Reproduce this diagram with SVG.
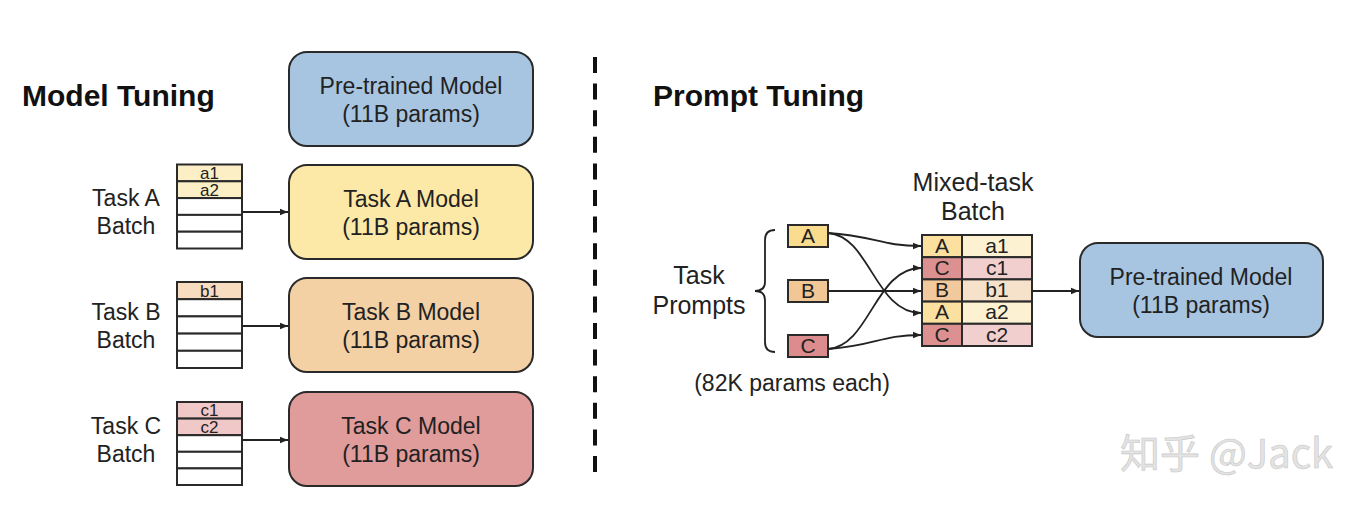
<svg xmlns="http://www.w3.org/2000/svg" width="1358" height="522" viewBox="0 0 1358 522">
<defs>
<style>
.t{font-family:"Liberation Sans",Arial,sans-serif;font-size:23px;fill:#222;text-anchor:middle}
.h{font-family:"Liberation Sans",Arial,sans-serif;font-size:30px;font-weight:bold;fill:#111}
.box{stroke:#2a2a2a;stroke-width:2}
.cell{stroke:#2a2a2a;stroke-width:2}
.ct{font-family:"Liberation Sans",Arial,sans-serif;font-size:17px;fill:#222;text-anchor:middle}
.rt{font-family:"Liberation Sans",Arial,sans-serif;font-size:21px;fill:#222;text-anchor:middle}
.conn{fill:none;stroke:#222;stroke-width:1.8}
</style>
<marker id="arr" viewBox="0 0 10 10" refX="10" refY="5" markerWidth="8" markerHeight="8" markerUnits="userSpaceOnUse" orient="auto">
<path d="M0,1 L10,5 L0,9 Z" fill="#222"/>
</marker>
</defs>
<rect width="1358" height="522" fill="#fff"/>

<text class="h" x="22" y="106">Model Tuning</text>
<text class="h" x="653" y="106">Prompt Tuning</text>

<line x1="595" y1="57" x2="595" y2="472" stroke="#111" stroke-width="4" stroke-dasharray="16 10.6"/>

<g id="pretrained-left">
<rect class="box" x="289" y="52" width="244" height="94" rx="18" fill="#a7c5e1"/>
<text class="t" x="411" y="94">Pre-trained Model</text>
<text class="t" x="411" y="122">(11B params)</text>
</g>

<g id="taskA-model">
<rect class="box" x="289" y="165" width="244" height="94" rx="18" fill="#fde9a7"/>
<text class="t" x="411" y="207">Task A Model</text>
<text class="t" x="411" y="235">(11B params)</text>
</g>
<g id="taskB-model">
<rect class="box" x="289" y="278" width="244" height="94" rx="18" fill="#f4d0a5"/>
<text class="t" x="411" y="320">Task B Model</text>
<text class="t" x="411" y="348">(11B params)</text>
</g>
<g id="taskC-model">
<rect class="box" x="289" y="392" width="244" height="94" rx="18" fill="#e09b9b"/>
<text class="t" x="411" y="434">Task C Model</text>
<text class="t" x="411" y="462">(11B params)</text>
</g>

<g id="taskA-batch">
<text class="t" x="126" y="206">Task A</text>
<text class="t" x="126" y="234">Batch</text>
<rect class="cell" x="177" y="164.5" width="65" height="16.8" fill="#fcefc6"/>
<rect class="cell" x="177" y="181.3" width="65" height="16.8" fill="#fcefc6"/>
<rect class="cell" x="177" y="198.1" width="65" height="16.8" fill="#fff"/>
<rect class="cell" x="177" y="214.9" width="65" height="16.8" fill="#fff"/>
<rect class="cell" x="177" y="231.7" width="65" height="16.8" fill="#fff"/>
<text class="ct" x="209.5" y="179">a1</text>
<text class="ct" x="209.5" y="196">a2</text>
</g>
<g id="taskB-batch">
<text class="t" x="126" y="320">Task B</text>
<text class="t" x="126" y="348">Batch</text>
<rect class="cell" x="177" y="282" width="65" height="17.2" fill="#f7dcc0"/>
<rect class="cell" x="177" y="299.2" width="65" height="17.2" fill="#fff"/>
<rect class="cell" x="177" y="316.4" width="65" height="17.2" fill="#fff"/>
<rect class="cell" x="177" y="333.6" width="65" height="17.2" fill="#fff"/>
<rect class="cell" x="177" y="350.8" width="65" height="17.2" fill="#fff"/>
<text class="ct" x="209.5" y="297">b1</text>
</g>
<g id="taskC-batch">
<text class="t" x="126" y="434">Task C</text>
<text class="t" x="126" y="462">Batch</text>
<rect class="cell" x="177" y="402" width="65" height="16.6" fill="#f0c8c8"/>
<rect class="cell" x="177" y="418.6" width="65" height="16.6" fill="#f0c8c8"/>
<rect class="cell" x="177" y="435.2" width="65" height="16.6" fill="#fff"/>
<rect class="cell" x="177" y="451.8" width="65" height="16.6" fill="#fff"/>
<rect class="cell" x="177" y="468.4" width="65" height="16.6" fill="#fff"/>
<text class="ct" x="209.5" y="416">c1</text>
<text class="ct" x="209.5" y="433">c2</text>
</g>

<g id="prompts">
<text class="t" x="699" y="284" style="font-size:25px">Task</text>
<text class="t" x="699" y="314" style="font-size:25px">Prompts</text>
<path d="M775,230 Q765,230 765,240 L765,282 Q765,291 755,291 Q765,291 765,300 L765,342 Q765,352 775,352" fill="none" stroke="#222" stroke-width="1.8"/>
<rect class="cell" x="788" y="225" width="40" height="22" fill="#fadc8e"/>
<text class="rt" x="808" y="243">A</text>
<rect class="cell" x="788" y="280" width="40" height="22" fill="#f2c796"/>
<text class="rt" x="808" y="298">B</text>
<rect class="cell" x="788" y="335" width="40" height="22" fill="#dc8c8c"/>
<text class="rt" x="808" y="353">C</text>
<text class="t" x="792" y="391">(82K params each)</text>
</g>

<g id="mixed-batch">
<text class="t" x="973" y="191" style="font-size:25px">Mixed-task</text>
<text class="t" x="973" y="220" style="font-size:25px">Batch</text>
<rect class="cell" x="922" y="235" width="40" height="22.2" fill="#fbe0a0"/>
<rect class="cell" x="962" y="235" width="70" height="22.2" fill="#fcf1d1"/>
<rect class="cell" x="922" y="257.2" width="40" height="22.2" fill="#dd9090"/>
<rect class="cell" x="962" y="257.2" width="70" height="22.2" fill="#f1cfcf"/>
<rect class="cell" x="922" y="279.4" width="40" height="22.2" fill="#f2c99c"/>
<rect class="cell" x="962" y="279.4" width="70" height="22.2" fill="#f6e2cb"/>
<rect class="cell" x="922" y="301.6" width="40" height="22.2" fill="#fbe0a0"/>
<rect class="cell" x="962" y="301.6" width="70" height="22.2" fill="#fcf1d1"/>
<rect class="cell" x="922" y="323.8" width="40" height="22.2" fill="#dd9090"/>
<rect class="cell" x="962" y="323.8" width="70" height="22.2" fill="#f1cfcf"/>
<text class="rt" x="942" y="253">A</text><text class="rt" x="997" y="253">a1</text>
<text class="rt" x="942" y="275">C</text><text class="rt" x="997" y="275">c1</text>
<text class="rt" x="942" y="297">B</text><text class="rt" x="997" y="297">b1</text>
<text class="rt" x="942" y="319">A</text><text class="rt" x="997" y="319">a2</text>
<text class="rt" x="942" y="342">C</text><text class="rt" x="997" y="342">c2</text>
</g>

<g id="pretrained-right">
<rect class="box" x="1080" y="243" width="243" height="94" rx="18" fill="#a7c5e1"/>
<text class="t" x="1201" y="285">Pre-trained Model</text>
<text class="t" x="1201" y="313">(11B params)</text>
</g>

<g id="connectors">
<line class="conn" x1="242" y1="212" x2="288" y2="212" marker-end="url(#arr)"/>
<line class="conn" x1="242" y1="326" x2="288" y2="326" marker-end="url(#arr)"/>
<line class="conn" x1="242" y1="440" x2="288" y2="440" marker-end="url(#arr)"/>
<path class="conn" d="M828,233 C875,236 880,246 921,246" marker-end="url(#arr)"/>
<path class="conn" d="M828,233 C870,236 875,313 921,313" marker-end="url(#arr)"/>
<line class="conn" x1="828" y1="291" x2="921" y2="291" marker-end="url(#arr)"/>
<path class="conn" d="M828,349 C870,346 875,268 921,268" marker-end="url(#arr)"/>
<path class="conn" d="M828,349 C875,346 880,335 921,335" marker-end="url(#arr)"/>
<line class="conn" x1="1032" y1="291" x2="1079" y2="291" marker-end="url(#arr)"/>
</g>

<text x="1120" y="468" style="font-family:'Noto Sans CJK SC','Liberation Sans',sans-serif;font-size:40px;fill:#e3e3e3;stroke:#c8c8c8;stroke-width:0.6">知乎 @Jack</text>
</svg>
